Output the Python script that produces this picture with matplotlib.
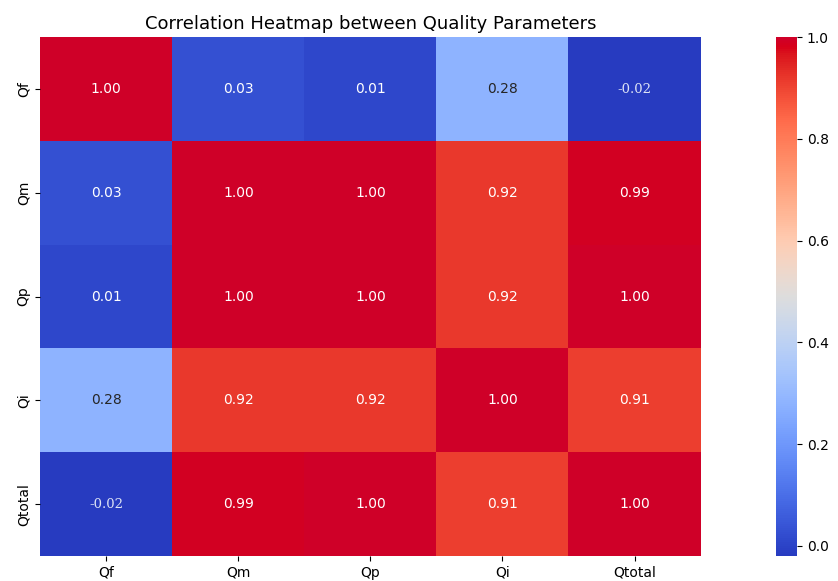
import numpy as np
import pandas as pd
import matplotlib
matplotlib.use('Agg')
import matplotlib.pyplot as plt
import matplotlib.colors as mcolors
import seaborn as sns

params = ['Qf', 'Qm', 'Qp', 'Qi', 'Qtotal']

# correlation rows
qf = [1.00, 0.03, 0.01, 0.28, -0.02]
qm = [0.03, 1.00, 0.998, 0.92, 0.99]
qp = [0.01, 0.998, 1.00, 0.92, 0.997]
qi = [0.28, 0.92, 0.92, 1.00, 0.91]
qtotal = [-0.02, 0.99, 0.997, 0.91, 1.00]

corr = pd.DataFrame([qf, qm, qp, qi, qtotal], index=params, columns=params)

# punchier coolwarm: more saturation, brighter reds
base = plt.get_cmap('coolwarm')(np.linspace(0, 1, 256))[:, :3]
hsv = mcolors.rgb_to_hsv(base)
hsv[:, 1] = np.clip(hsv[:, 1] * 1.15, 0, 1)
red_half = np.arange(256) >= 128
hsv[red_half, 2] = np.clip(hsv[red_half, 2] * (1 + 0.15 * hsv[red_half, 1]), 0, 1)
cmap = mcolors.ListedColormap(mcolors.hsv_to_rgb(hsv))

fig = plt.figure(figsize=(8.38, 5.81), dpi=100)
ax = fig.add_axes([0.048, 0.043, 0.788, 0.893])
cax = fig.add_axes([0.926, 0.043, 0.025, 0.893])

sns.heatmap(corr, annot=True, fmt='.2f', cmap=cmap, ax=ax, cbar_ax=cax,
            annot_kws={'fontsize': 10})
for t in ax.texts:
    if t.get_text().startswith(('-', '\u2212')):
        t.set_fontfamily('DejaVu Serif')
        t.set_fontsize(9.5)
        t.set_color('#dde3f5')
ax.set_title('Correlation Heatmap between Quality Parameters', fontsize=13, pad=6)
ax.tick_params(labelsize=10)
cax.tick_params(labelsize=10)

fig.savefig('out.png', dpi=100)
